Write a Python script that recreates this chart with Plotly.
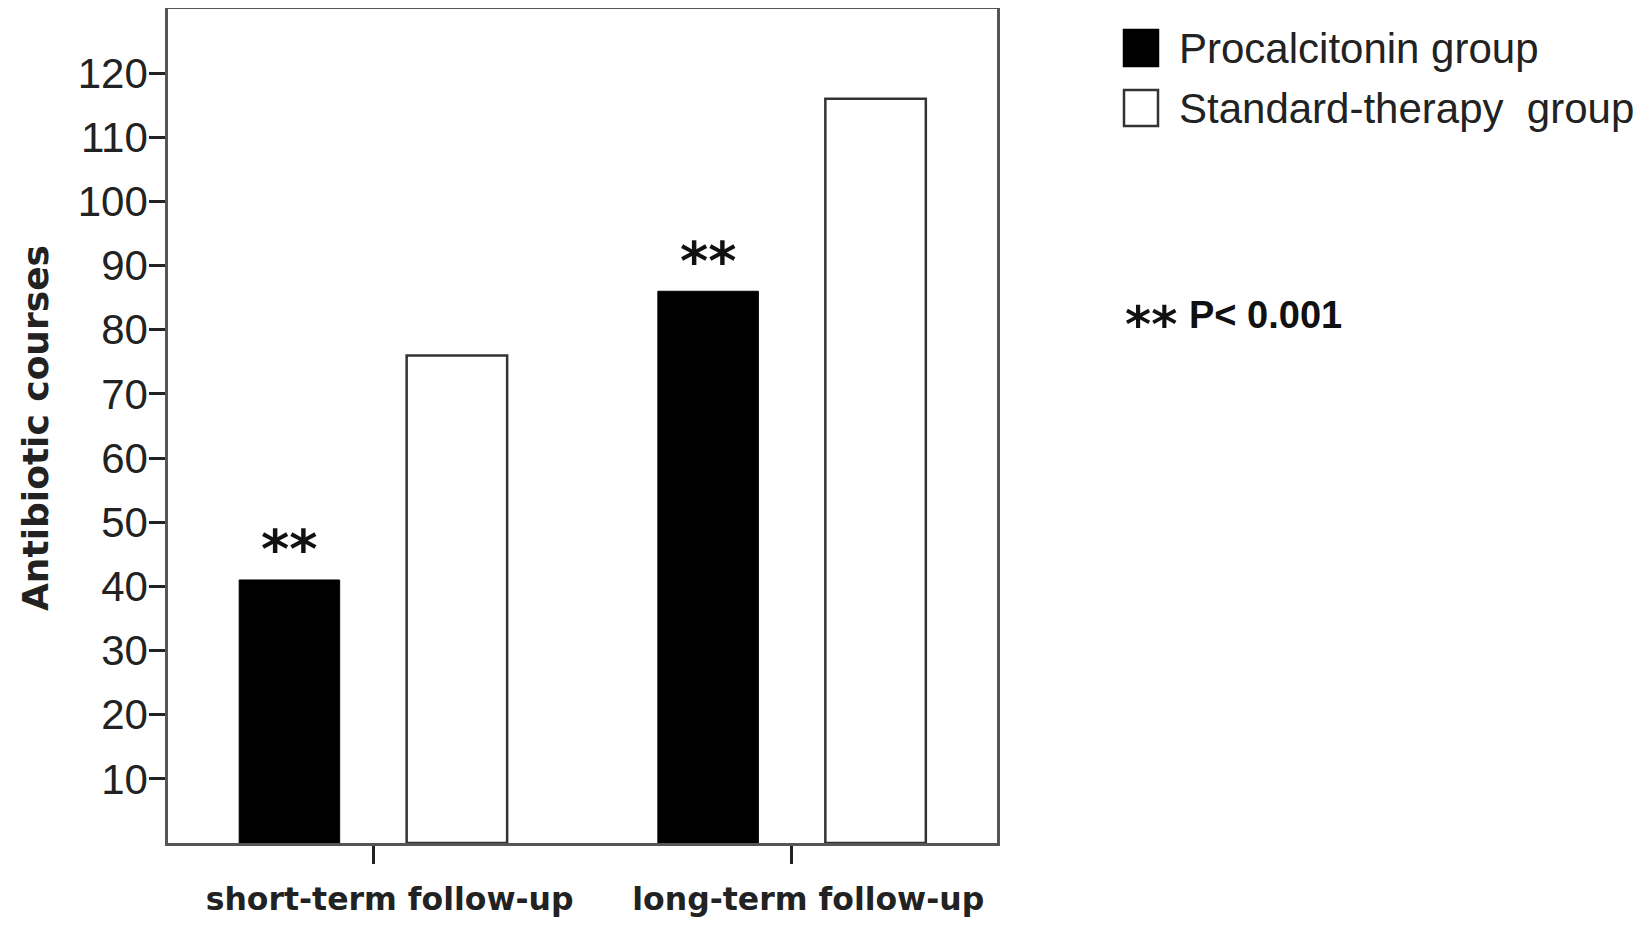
import plotly.graph_objects as go

categories = ["short-term follow-up", "long-term follow-up"]
procalcitonin = [41, 86]
standard = [76, 116]
series_names = ["Procalcitonin group", "Standard-therapy  group"]
y_ticks = [10, 20, 30, 40, 50, 60, 70, 80, 90, 100, 110, 120]
y_title = "Antibiotic courses"
sig_marks = ["**", "**"]
p_note = "P< 0.001"

# page pixel geometry of the plotting area (browser body adds an 8px offset)
OFF = 8
PX0, PX1, PY0, PY1 = 168, 997, 9, 843


def px(x):
    return (x - PX0) / (PX1 - PX0)


def py(y):
    return (PY1 - y) / (PY1 - PY0)


fig = go.Figure()
fig.add_trace(go.Bar(
    x=categories, y=procalcitonin, name=series_names[0],
    marker=dict(color="#000000", line=dict(color="#000000", width=1)),
    showlegend=False,
))
fig.add_trace(go.Bar(
    x=categories, y=standard, name=series_names[1],
    marker=dict(color="#ffffff", line=dict(color="#333333", width=2.5)),
    showlegend=False,
))

# significance stars above procalcitonin bars
for cat, val, mark in zip(categories, procalcitonin, sig_marks):
    fig.add_annotation(
        x=cat, y=val, xref="x", yref="y", text="<b>" + mark + "</b>", showarrow=False,
        xshift=-84, yshift=30, yanchor="middle",
        font=dict(family="DejaVu Sans", size=54, color="#111111"),
    )

# manual legend
rows = [(30, 66, "#000000", "#000000"), (90, 126, "#ffffff", "#333333")]
for (ya, yb, fill, line), name in zip(rows, series_names):
    fig.add_shape(
        type="rect", xref="paper", yref="paper",
        x0=px(1124), x1=px(1158), y0=py(yb), y1=py(ya),
        fillcolor=fill, line=dict(color=line, width=2.5),
    )
    fig.add_annotation(
        xref="paper", yref="paper", x=px(1177), y=py((ya + yb) / 2),
        text=name, showarrow=False, xanchor="left", yanchor="middle",
        font=dict(family="Liberation Sans", size=42, color="#222222"),
    )

fig.add_annotation(
    xref="paper", yref="paper", x=px(1123), y=py(315),
    text="<b>**</b>", showarrow=False, xanchor="left", yanchor="middle", yshift=-10,
    font=dict(family="DejaVu Sans", size=50, color="#111111"),
)
fig.add_annotation(
    xref="paper", yref="paper", x=px(1187), y=py(315),
    text="<b>" + p_note + "</b>", showarrow=False, xanchor="left", yanchor="middle",
    font=dict(family="Liberation Sans", size=38, color="#111111"),
)

# y-axis title
fig.add_annotation(
    xref="paper", yref="paper", x=px(35), y=py(428),
    text="<b>" + y_title + "</b>", showarrow=False, textangle=-90,
    xanchor="center", yanchor="middle",
    font=dict(family="DejaVu Sans", size=36, color="#222222"),
)

NBSP = "\u00a0"
tick_text = [NBSP * 3 + c for c in categories]

W, H = 1650 - 2 * OFF, 925 - 2 * OFF
fig.update_layout(
    width=W, height=H,
    margin=dict(l=PX0 - OFF, r=W - (PX1 - OFF), t=PY0 - OFF, b=H - (PY1 - OFF), autoexpand=False),
    paper_bgcolor="white", plot_bgcolor="white",
    barmode="group", bargap=0.2, bargroupgap=0.4,
    showlegend=False,
)
fig.update_xaxes(
    range=[-0.49, 1.49], showgrid=False, zeroline=False,
    showline=True, mirror=True, linecolor="#555555", linewidth=2.5,
    ticks="outside", ticklen=18, tickwidth=3, tickcolor="#222222",
    tickmode="array", tickvals=categories, ticktext=tick_text,
    ticklabelstandoff=8,
    tickfont=dict(family="DejaVu Sans", size=31.5, color="#222222", weight="bold"),
)
fig.update_yaxes(
    range=[0, 130], showgrid=False, zeroline=False,
    showline=True, mirror=True, linecolor="#555555", linewidth=2.5,
    tickvals=y_ticks, ticks="outside", ticklen=16, tickwidth=3, tickcolor="#222222",
    ticklabelstandoff=-7,
    tickfont=dict(family="Liberation Sans", size=42, color="#222222"),
)

fig.write_html("out.html")
